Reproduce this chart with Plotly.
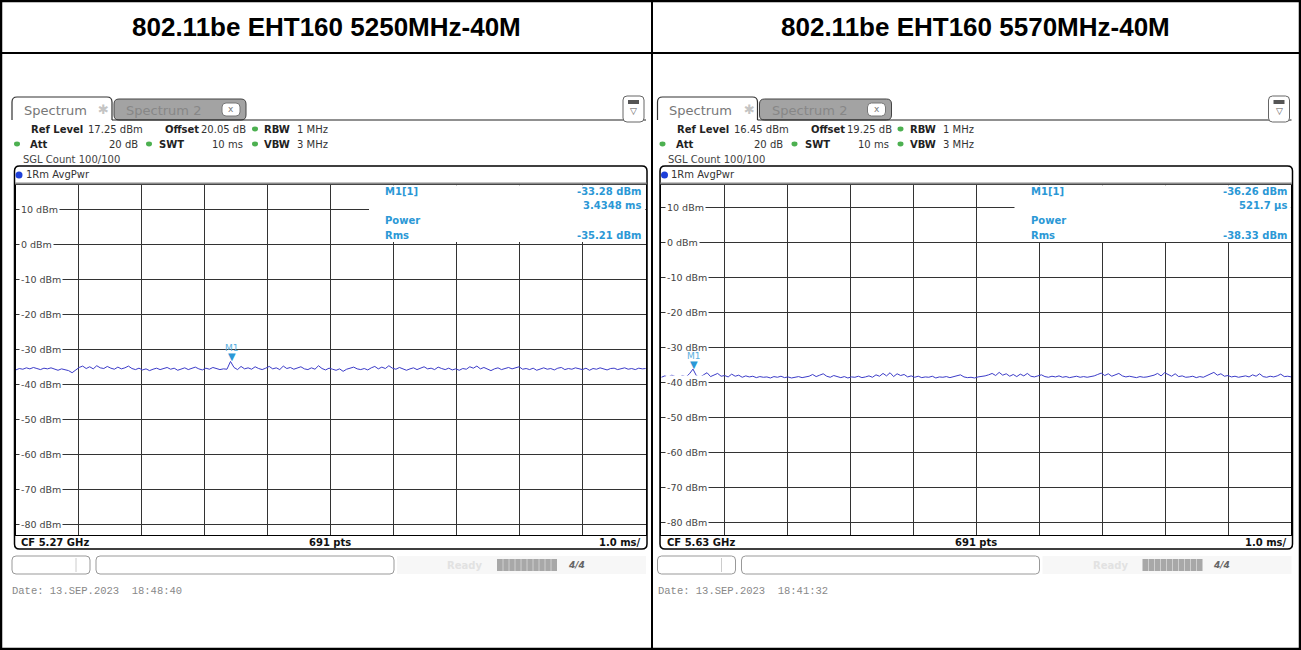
import numpy as np
import plotly.graph_objects as go

W, H = 1301, 650

# ---------------- data ----------------
titles = ["802.11be EHT160 5250MHz-40M", "802.11be EHT160 5570MHz-40M"]
ref_levels = [17.25, 16.45]
ref_texts = ["17.25 dBm", "16.45 dBm"]
offset_texts = ["20.05 dB", "19.25 dB"]
cf_texts = ["CF 5.27 GHz", "CF 5.63 GHz"]
marker_times = [3.4348, 0.5217]          # ms
marker_levels = [-33.28, -36.26]         # dBm
marker_level_texts = ["-33.28 dBm", "-36.26 dBm"]
marker_time_texts = ["3.4348 ms", "521.7 µs"]
rms_texts = ["-35.21 dBm", "-38.33 dBm"]
date_texts = ["Date: 13.SEP.2023  18:48:40", "Date: 13.SEP.2023  18:41:32"]
ytick_values = [10, 0, -10, -20, -30, -40, -50, -60, -70, -80]
sweep_ms = 10.0

trace_left = [
    -35.7, -35.3, -35.5, -35.1, -35.4, -35.0, -35.3, -35.6, -35.2, -35.4,
    -35.1, -35.5, -35.8, -35.4, -35.6, -35.9, -36.5, -35.8, -35.0, -34.6,
    -35.3, -34.8, -35.4, -34.5, -35.1, -35.3, -34.7, -35.2, -35.5, -34.9,
    -35.4, -35.1, -34.6, -35.3, -35.6, -35.2, -35.7, -35.4, -35.9, -35.5,
    -35.2, -35.6, -35.3, -35.0, -35.5, -35.2, -35.8, -35.4, -35.1, -35.6,
    -35.3, -34.9, -35.4, -35.7, -35.2, -35.5, -35.0, -35.3, -35.6, -35.4,
    -35.5, -33.28, -35.0, -35.6, -34.7, -35.4, -35.1, -35.5, -34.8, -35.3,
    -35.6, -35.2, -34.7, -35.4, -35.1, -35.6, -34.6, -35.3, -35.0, -35.5,
    -35.2, -34.8, -35.4, -35.6, -35.1, -35.5, -34.5, -35.3, -35.7, -35.2,
    -35.5, -35.8, -35.4, -36.1, -35.5, -35.2, -34.9, -35.4, -35.6, -35.3,
    -35.7, -35.1, -34.7, -35.4, -34.9, -35.3, -34.5, -35.2, -35.5, -35.0,
    -35.3, -35.8, -35.4, -35.1, -35.6, -35.3, -34.8, -35.4, -35.2, -35.6,
    -34.9, -35.3, -35.6, -35.2, -35.7, -35.4, -35.8, -35.3, -35.5, -34.8,
    -35.2, -34.6, -35.4, -35.0, -35.5, -35.9, -35.4, -35.1, -35.6, -35.3,
    -35.0, -35.4, -35.2, -34.8, -35.5, -35.3, -35.6, -35.2, -35.8, -35.4,
    -35.1, -35.5, -35.3, -35.7, -35.2, -35.0, -35.6, -35.3, -35.5, -35.1,
    -35.4, -35.6, -35.2, -35.8, -35.3, -35.5, -35.1, -35.4, -35.7, -35.3,
    -35.2, -35.6, -35.4, -35.1, -35.5, -35.3, -35.6, -35.2, -35.4, -35.3,
]
trace_right = [
    -38.6, -38.2, -38.5, -38.0, -38.4, -38.7, -38.1, -38.5, -37.6, -36.26,
    -38.2, -38.6, -37.9, -37.3, -38.4, -38.0, -37.5, -38.3, -38.1, -38.5,
    -37.7, -38.3, -38.0, -38.6, -38.2, -38.5, -38.3, -38.7, -38.4, -38.6,
    -38.5, -38.8, -38.4, -38.6, -38.3, -38.7, -38.5, -38.8, -38.6, -38.4,
    -38.7, -38.5, -38.3, -37.8, -38.4, -38.0, -37.6, -38.3, -38.6, -38.1,
    -38.5, -38.7, -38.4, -38.8, -38.5, -38.6, -38.3, -38.7, -38.5, -38.2,
    -38.6, -37.9, -38.3, -37.5, -38.2, -37.3, -38.4, -37.6, -38.1, -37.8,
    -38.5, -38.2, -38.6, -38.3, -38.7, -38.5, -38.6, -38.3, -38.8, -38.5,
    -38.6, -38.4, -38.7, -38.5, -38.3, -37.9, -38.5, -38.7, -38.6, -38.8,
    -38.5, -38.4, -38.2, -37.9, -37.5, -38.1, -37.2, -38.0, -37.6, -38.3,
    -37.8, -38.4, -37.7, -38.2, -37.5, -38.3, -38.5, -38.2, -37.9, -38.4,
    -38.6, -38.3, -38.5, -38.2, -38.6, -38.4, -38.7, -38.5, -38.3, -38.6,
    -38.4, -38.6, -38.5, -38.2, -37.8, -37.4, -38.1, -37.6, -38.3, -37.9,
    -37.5, -38.2, -38.5, -38.3, -38.6, -38.7, -38.4, -38.6, -38.5, -38.3,
    -38.0, -37.5, -38.2, -37.3, -37.9, -38.3, -37.6, -38.4, -38.2, -38.6,
    -38.5, -38.3, -38.7, -38.4, -38.6, -38.2, -37.8, -37.2, -38.0, -37.6,
    -38.3, -38.1, -38.5, -38.3, -38.6, -38.4, -38.2, -38.5, -37.9, -38.3,
    -37.6, -38.4, -38.6, -38.3, -38.5, -38.2, -37.7, -38.4, -38.3, -38.5,
]
traces = [trace_left, trace_right]

# ---------------- helpers (pixel -> paper) ----------------
def X(px):
    return px / W

def Y(py):
    return 1 - py / H

FONT = "DejaVu Sans"
MARK = "#2b98d6"
TRACE = "#3c3cc8"
GREEN = "#4cb050"

annotations = []
shapes = []

def txt(x, y, s, size=10, color="#222", anchor="left", family=FONT, bg=None):
    a = dict(x=X(x), y=Y(y), xref="paper", yref="paper", text=s, showarrow=False,
             xanchor=anchor, yanchor="middle", font=dict(family=family, size=size, color=color))
    if bg:
        a["bgcolor"] = bg
        a["borderpad"] = 0
    annotations.append(a)

def line(x0, y0, x1, y1, color="black", width=1):
    shapes.append(dict(type="line", xref="paper", yref="paper", x0=X(x0), y0=Y(y0),
                       x1=X(x1), y1=Y(y1), line=dict(color=color, width=width), layer="above"))

def rect(x0, y0, x1, y1, fill="white", color=None, width=0):
    shapes.append(dict(type="rect", xref="paper", yref="paper", x0=X(x0), y0=Y(y0),
                       x1=X(x1), y1=Y(y1), fillcolor=fill,
                       line=dict(color=color or fill, width=width), layer="above"))

def dot(x, y, r, color):
    shapes.append(dict(type="circle", xref="paper", yref="paper", x0=X(x - r), y0=Y(y - r * 0.8),
                       x1=X(x + r), y1=Y(y + r * 0.8), fillcolor=color, line=dict(width=0), layer="above"))

def rpath(x0, y0, x1, y1, r, closed=True):
    p = (f"M {X(x0)},{Y(y1 if not closed else y0 + r)} "
         f"L {X(x0)},{Y(y0 + r)} Q {X(x0)},{Y(y0)} {X(x0 + r)},{Y(y0)} "
         f"L {X(x1 - r)},{Y(y0)} Q {X(x1)},{Y(y0)} {X(x1)},{Y(y0 + r)} ")
    if closed:
        p += (f"L {X(x1)},{Y(y1 - r)} Q {X(x1)},{Y(y1)} {X(x1 - r)},{Y(y1)} "
              f"L {X(x0 + r)},{Y(y1)} Q {X(x0)},{Y(y1)} {X(x0)},{Y(y1 - r)} Z")
    else:
        p += f"L {X(x1)},{Y(y1)}"
    return p

def path(p, color="black", width=1, fill=None):
    d = dict(type="path", xref="paper", yref="paper", path=p,
             line=dict(color=color, width=width), layer="above")
    if fill:
        d["fillcolor"] = fill
    shapes.append(d)

fig = go.Figure()

PX0 = [15.8, 661.3]       # plot left edge in px
PW = 630.0
PTOP, PBOT = 184.6, 534.6

for i in range(2):
    dx = 0 if i == 0 else 645.5
    xa = "x" if i == 0 else "x2"
    ya = "y" if i == 0 else "y2"
    n = len(traces[i])
    times = np.linspace(0, sweep_ms, n)
    fig.add_trace(go.Scatter(x=times, y=traces[i], mode="lines",
                             line=dict(color=TRACE, width=1), xaxis=xa, yaxis=ya,
                             hoverinfo="skip"))
    axx = dict(domain=[X(PX0[i]), X(PX0[i] + PW)], range=[0, sweep_ms], dtick=1, tick0=0,
               showgrid=True, gridcolor="#333333", gridwidth=1, showticklabels=False,
               zeroline=False, showline=True, linecolor="black", linewidth=1, mirror=True,
               anchor=ya, fixedrange=True)
    axy = dict(domain=[Y(PBOT), Y(PTOP)], range=[ref_levels[i] - 100, ref_levels[i]], dtick=10, tick0=0,
               showgrid=True, gridcolor="#333333", gridwidth=1, showticklabels=False,
               zeroline=False, showline=True, linecolor="black", linewidth=1, mirror=True,
               anchor=xa, fixedrange=True)
    if i == 0:
        fig.update_layout(xaxis=axx, yaxis=axy)
    else:
        fig.update_layout(xaxis2=axx, yaxis2=axy)

    # title
    txt(326 + (0 if i == 0 else 649), 27, f"<b>{titles[i]}</b>", size=26, color="black",
        anchor="center", family="Liberation Sans")

    # tabs
    path(rpath(12 + dx, 97, 112 + dx, 120, 5, closed=False), color="#333", width=1.2)
    path(rpath(114 + dx, 99, 246 + dx, 120, 5), color="#444", width=1, fill="#a3a3a3")
    txt(22 + dx, 110, "Spectrum", size=13, color="#777")
    txt(96 + dx, 109, "✱", size=13, color="#c4c4c4")
    txt(124 + dx, 110, "Spectrum 2", size=13, color="#878787")
    path(rpath(222 + dx, 103, 240 + dx, 116, 4), color="#777", width=1, fill="white")
    txt(231 + dx, 109.5, "x", size=9, color="#777", anchor="center")
    line(112 + dx, 120, 646 + dx, 120, color="#222", width=1.2)
    path(rpath(623 + dx, 96, 644 + dx, 122, 4), color="#666", width=1, fill="white")
    rect(628 + dx, 100, 639 + dx, 104, fill="#555")
    txt(633.5 + dx, 111, "▽", size=9, color="#555", anchor="center")

    # settings rows
    txt(29 + dx, 129, "<b>Ref Level</b>", size=10)
    txt(86 + dx, 129, ref_texts[i], size=10, color="#333")
    txt(163 + dx, 129, "<b>Offset</b>", size=10)
    txt(199 + dx, 129, offset_texts[i], size=10, color="#333")
    dot(255 + dx, 129, 3, GREEN)
    txt(262 + dx, 129, "<b>RBW</b>", size=10)
    txt(295 + dx, 129, "1 MHz", size=10, color="#333")

    dot(17 + dx, 144, 3, GREEN)
    txt(28 + dx, 144, "<b>Att</b>", size=10)
    txt(140 + dx, 144, "20 dB", size=10, color="#333", anchor="right")
    dot(149 + dx, 144, 3, GREEN)
    txt(157 + dx, 144, "<b>SWT</b>", size=10)
    txt(245 + dx, 144, "10 ms", size=10, color="#333", anchor="right")
    dot(255 + dx, 144, 3, GREEN)
    txt(262 + dx, 144, "<b>VBW</b>", size=10)
    txt(295 + dx, 144, "3 MHz", size=10, color="#333")

    txt(21 + dx, 159, "SGL Count 100/100", size=10, color="#444")

    # frame
    path(rpath(14.5 + dx, 166, 647 + dx, 549, 5), color="black", width=1.5)
    line(15 + dx, 183.5, 646.5 + dx, 183.5, color="#8a8a8a", width=2)
    shapes.append(dict(type="circle", xref="paper", yref="paper", x0=X(15.5 + dx), y0=Y(171.5),
                       x1=X(22.5 + dx), y1=Y(178.5), fillcolor="#1e3fd8", line=dict(width=0), layer="above"))
    txt(23.5 + dx, 175, "1Rm AvgPwr", size=10, color="#333")

    # marker info box (covers grid)
    rect(369 + dx, 185.3, 645.3 + dx, 242, fill="white")
    txt(383 + dx, 191, "<b>M1[1]</b>", size=10, color=MARK)
    txt(643 + dx, 191, f"<b>{marker_level_texts[i]}</b>", size=10, color=MARK, anchor="right")
    txt(643 + dx, 205, f"<b>{marker_time_texts[i]}</b>", size=10, color=MARK, anchor="right")
    txt(383 + dx, 220, "<b>Power</b>", size=10, color=MARK)
    txt(383 + dx, 235, "<b>Rms</b>", size=10, color=MARK)
    txt(643 + dx, 235, f"<b>{rms_texts[i]}</b>", size=10, color=MARK, anchor="right")

    # y tick labels
    for v in ytick_values:
        annotations.append(dict(x=X(PX0[i] + 3.5), y=v, xref="paper", yref=ya,
                                text=f"{v} dBm", showarrow=False, xanchor="left", yanchor="middle",
                                font=dict(family=FONT, size=9.5, color="#444"),
                                bgcolor="white", borderpad=1))

    # marker
    annotations.append(dict(x=marker_times[i], y=marker_levels[i], xref=xa, yref=ya, text="▼",
                            showarrow=False, xanchor="center", yanchor="bottom", yshift=-3,
                            font=dict(family=FONT, size=10, color=MARK)))
    annotations.append(dict(x=marker_times[i], y=marker_levels[i], xref=xa, yref=ya, text="M1",
                            showarrow=False, xanchor="center", yanchor="bottom", yshift=6,
                            font=dict(family=FONT, size=9, color="#5ab0e0")))

    # bottom bar
    txt(19 + dx, 542, f"<b>{cf_texts[i]}</b>", size=10, color="#111")
    txt(330 + dx, 542, "<b>691 pts</b>", size=10, color="#111", anchor="center")
    txt(643 + dx, 542, "<b>1.0 ms/</b>", size=10, color="#111", anchor="right")

    # status bar
    path(rpath(12 + dx, 556, 90 + dx, 574, 4), color="#999", width=1, fill="white")
    line(76 + dx, 558, 76 + dx, 572, color="#ccc", width=1)
    path(rpath(96 + dx, 556, 394 + dx, 574, 4), color="#999", width=1, fill="white")
    rect(397 + dx, 556, 646 + dx, 574, fill="#f7f7f7")
    txt(445 + dx, 565, "<b>Ready</b>", size=10, color="#e2e2e2")
    rect(497 + dx, 559, 557 + dx, 571, fill="#a8a8a8")
    for k in range(1, 10):
        line(497 + dx + 6 * k, 559, 497 + dx + 6 * k, 571, color="#cfcfcf", width=1)
    txt(576 + dx, 565, "<b><i>4/4</i></b>", size=9, color="#666", anchor="center")

    # date
    txt(10 + dx, 591, date_texts[i], size=10.5, color="#888", family="Liberation Mono")

# table grid
line(0, 53, W, 53, color="black", width=2)
line(652, 0, 652, H, color="black", width=2)
shapes.append(dict(type="rect", xref="paper", yref="paper", x0=X(1), y0=Y(1), x1=X(W - 1), y1=Y(H - 1),
                   line=dict(color="black", width=2.5), layer="above"))

fig.update_layout(width=W, height=H, margin=dict(l=0, r=0, t=0, b=0),
                  paper_bgcolor="white", plot_bgcolor="white", showlegend=False,
                  annotations=annotations, shapes=shapes)

fig.write_html("out.html", config={"displayModeBar": False, "staticPlot": True},
               post_script="document.body.style.margin='0px';document.body.style.overflow='hidden';")
